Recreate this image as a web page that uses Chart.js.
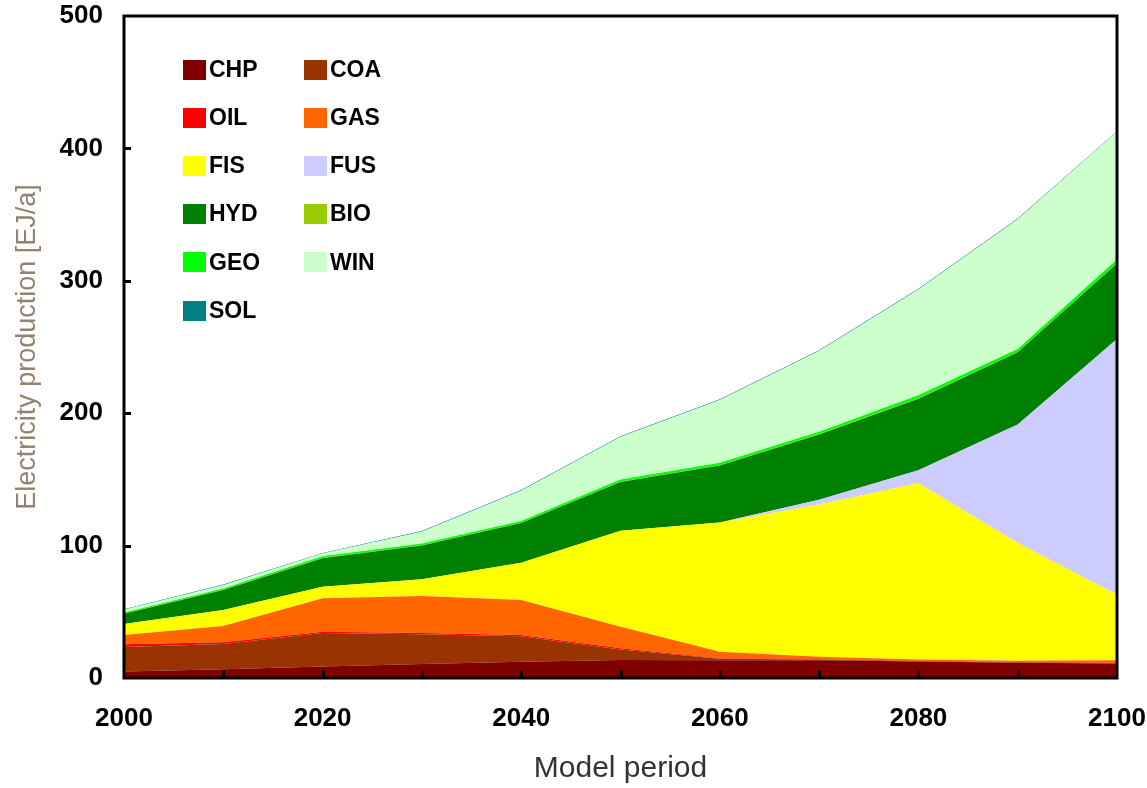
<!DOCTYPE html>
<html>
<head>
<meta charset="utf-8">
<title>Electricity production by source</title>
<script src="https://cdn.jsdelivr.net/npm/chart.js@4.4.1/dist/chart.umd.min.js"></script>
<style>
  html, body { margin: 0; padding: 0; background: #ffffff; }
  #wrap { width: 1147px; height: 788px; }
</style>
</head>
<body>
<div id="wrap"><canvas id="chart" width="1147" height="788"></canvas></div>
<script>
// Model periods (x categories)
const years = [2000, 2010, 2020, 2030, 2040, 2050, 2060, 2070, 2080, 2090, 2100];
const xTickLabels = [2000, 2020, 2040, 2060, 2080, 2100];
const yTickValues = [0, 100, 200, 300, 400, 500];

// Generation by technology, EJ/a per period (stacked bottom to top)
const seriesNames = ['CHP', 'COA', 'OIL', 'GAS', 'FIS', 'FUS', 'HYD', 'BIO', 'GEO', 'WIN', 'SOL'];
const seriesColors = ['#800000', '#993300', '#ff0000', '#ff6600', '#ffff00', '#ccccff',
                      '#008000', '#99cc00', '#00ff00', '#ccffcc', '#008080'];

const chp = [5.0, 6.6, 8.6, 10.6, 12.3, 13.6, 13.5, 13.5, 12.5, 11.5, 11.0];
const coa = [18.5, 19.0, 25.4, 22.4, 19.2, 7.9, 1.0, 0.5, 0.3, 0.2, 0.2];
const oil = [2.0, 1.4, 1.0, 1.0, 1.0, 0.9, 0.5, 0.3, 0.2, 0.3, 0.3];
const gas = [7.0, 12.3, 25.3, 28.0, 26.5, 16.4, 4.9, 1.8, 1.0, 1.0, 2.0];
const fis = [8.3, 12.1, 8.7, 12.6, 28.0, 72.4, 97.6, 114.9, 133.0, 89.0, 49.3];
const fus = [0, 0, 0, 0, 0, 0, 0, 3.6, 10.0, 89.4, 193.2];
const hyd = [7.7, 15.0, 21.5, 25.4, 30.0, 36.8, 43.0, 49.4, 54.0, 54.6, 57.0];
const bio = [0.2, 0.2, 0.2, 0.2, 0.2, 0.2, 0.2, 0.2, 0.2, 0.2, 0.2];
const geo = [0.8, 1.0, 1.3, 1.3, 1.3, 1.8, 1.8, 1.8, 2.3, 2.3, 2.8];
const win = [2.0, 2.5, 2.0, 9.0, 23.0, 32.0, 47.5, 61.0, 80.0, 98.0, 96.5];
const sol = [0.5, 0.5, 0.5, 0.5, 0.5, 0.5, 0.5, 0.5, 0.5, 0.5, 0.5];

const seriesValues = [chp, coa, oil, gas, fis, fus, hyd, bio, geo, win, sol];

const FONT = '"Liberation Sans", Arial, sans-serif';

const datasets = seriesNames.map((name, i) => ({
  label: name,
  data: seriesValues[i],
  backgroundColor: seriesColors[i],
  borderColor: 'rgba(0,0,0,0)',
  borderWidth: 0,
  pointRadius: 0,
  pointHoverRadius: 0,
  tension: 0,
  fill: i === 0 ? 'origin' : '-1'
}));

// Frame, inward tick marks and the two-column key
const framePlugin = {
  id: 'frameAndKey',
  afterDatasetsDraw(chart) {
    const { ctx, chartArea: a, scales: { x, y } } = chart;
    ctx.save();
    ctx.strokeStyle = '#000';
    ctx.lineWidth = 3;
    ctx.lineCap = 'butt';

    // y tick marks pointing into the plot
    yTickValues.slice(1, -1).forEach(v => {
      const py = Math.round(y.getPixelForValue(v)) + 0.5;
      ctx.beginPath();
      ctx.moveTo(a.left, py);
      ctx.lineTo(a.left + 7, py);
      ctx.stroke();
    });
    // x tick marks every period, pointing up
    years.forEach((yr, i) => {
      if (i === 0 || i === years.length - 1) return;
      const px = Math.round(x.getPixelForValue(i)) + 0.5;
      ctx.beginPath();
      ctx.moveTo(px, a.bottom);
      ctx.lineTo(px, a.bottom - 8);
      ctx.stroke();
    });

    // plot frame
    ctx.strokeRect(a.left, a.top, a.right - a.left, a.bottom - a.top);

    // key: two columns, filled row by row
    const colBox = [183, 304];
    const rowTop = 69.5;
    const rowStep = 48.2;
    ctx.font = 'bold 23px ' + FONT;
    ctx.textBaseline = 'middle';
    ctx.textAlign = 'left';
    chart.data.datasets.forEach((ds, i) => {
      const col = i % 2;
      const row = Math.floor(i / 2);
      const bx = colBox[col];
      const cy = rowTop + row * rowStep;
      ctx.fillStyle = ds.backgroundColor;
      ctx.fillRect(bx, Math.round(cy - 10), 23, 20);
      ctx.fillStyle = '#000';
      ctx.fillText(ds.label, bx + 26, cy + 1);
    });
    ctx.restore();
  }
};

new Chart(document.getElementById('chart'), {
  type: 'line',
  data: { labels: years.map(String), datasets },
  options: {
    responsive: false,
    animation: false,
    devicePixelRatio: 1,
    layout: { padding: { left: 0, right: 30, top: 16, bottom: 0 } },
    plugins: {
      legend: { display: false },
      tooltip: { enabled: false },
      filler: { propagate: false }
    },
    scales: {
      x: {
        type: 'category',
        offset: false,
        grid: { display: false, drawTicks: false },
        border: { display: false },
        ticks: {
          autoSkip: false,
          maxRotation: 0,
          color: '#000',
          padding: 25,
          font: { family: FONT, size: 26, weight: 'bold' },
          callback(value, index) {
            return xTickLabels.includes(years[index]) ? String(years[index]) : '';
          }
        },
        title: {
          display: true,
          text: 'Model period',
          color: '#333333',
          font: { family: FONT, size: 30 },
          padding: { top: 0, bottom: 1 }
        },
        afterFit(scale) {
          scale.height = 110;
          scale.paddingLeft = 0;
          scale.paddingRight = 0;
        }
      },
      y: {
        stacked: true,
        min: 0,
        max: 500,
        grid: { display: false, drawTicks: false },
        border: { display: false },
        ticks: {
          stepSize: 100,
          color: '#000',
          padding: 21,
          font: { family: FONT, size: 26, weight: 'bold' }
        },
        title: {
          display: true,
          text: 'Electricity production [EJ/a]',
          color: '#938370',
          font: { family: FONT, size: 27 },
          padding: { top: 11, bottom: 0 }
        },
        afterFit(scale) {
          scale.width = 124;
          scale.paddingTop = 0;
          scale.paddingBottom = 0;
        }
      }
    }
  },
  plugins: [framePlugin]
});
</script>
</body>
</html>
